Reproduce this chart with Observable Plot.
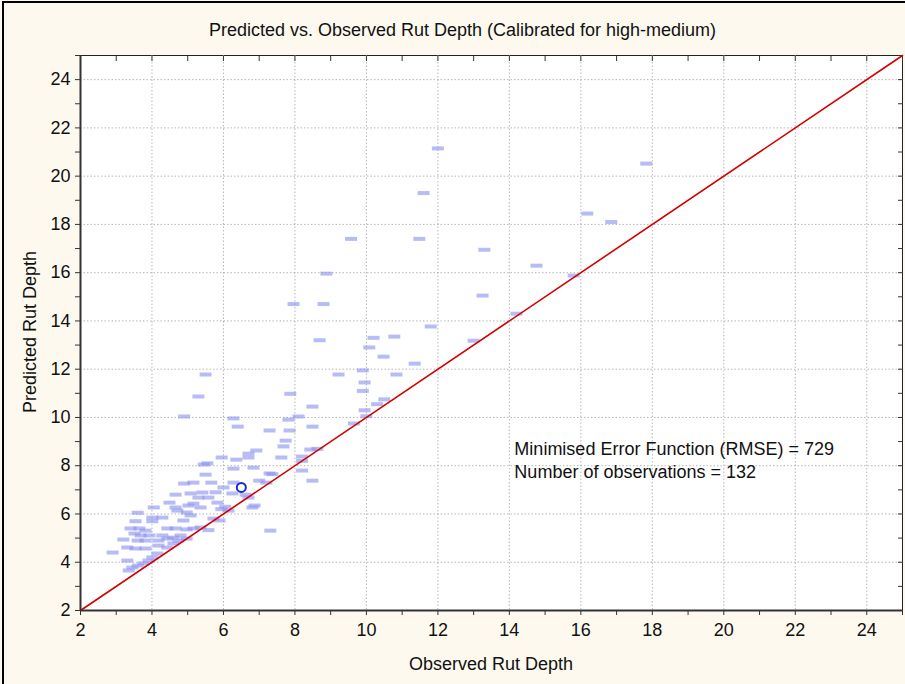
<!DOCTYPE html>
<html>
<head>
<meta charset="utf-8">
<script src="https://cdn.jsdelivr.net/npm/d3@7"></script>
<script src="https://cdn.jsdelivr.net/npm/@observablehq/plot@0.6"></script>
<style>
  html, body { margin: 0; padding: 0; background: #fdf9ef; }
  body { width: 905px; height: 684px; overflow: hidden; font-family: "Liberation Sans", Arial, sans-serif; }
  #wrap { position: relative; width: 905px; height: 684px; box-sizing: border-box; }
  #border { position: absolute; left: 2px; top: 1px; width: 910px; height: 700px; border-top: 2px solid #000; border-left: 2px solid #000; }
  #chart { position: absolute; left: 0; top: 0; }
  .lbl { position: absolute; font-size: 18px; color: #111; white-space: nowrap; }
  #title { left: 0; width: 925px; top: 20px; text-align: center; }
  #xlab { left: 80px; width: 822px; top: 654px; text-align: center; }
  #ylab { left: 30px; top: 332px; transform: translate(-50%, -50%) rotate(-90deg); }
</style>
</head>
<body>
<div id="wrap">
  <div id="border"></div>
  <div id="chart"></div>
  <div class="lbl" id="title">Predicted vs. Observed Rut Depth (Calibrated for high-medium)</div>
  <div class="lbl" id="xlab">Observed Rut Depth</div>
  <div class="lbl" id="ylab">Predicted Rut Depth</div>
</div>
<script>
// Observed rut depth (x) and predicted rut depth (y) for each observation
const observed = [
  12.0, 17.83, 11.6, 16.18, 16.85, 9.57, 11.48, 13.3, 14.76, 8.88,
  15.8, 13.25, 7.96, 8.8, 14.2, 11.8, 10.78, 10.2, 8.69, 13.0,
  10.08, 10.48, 11.35, 9.22, 9.9, 10.84, 5.5, 9.95, 5.3, 9.9,
  7.87, 8.49, 10.5, 10.3, 4.9, 9.95, 10.0, 8.1, 6.28, 7.82,
  9.65, 6.4, 8.49, 7.29, 7.85, 7.74, 7.68, 8.63, 8.43, 6.92,
  6.7, 5.95, 6.36, 6.7, 7.62, 8.2, 8.2, 5.55, 5.45, 6.28,
  6.84, 8.2, 7.29, 5.5, 7.37, 8.49, 7.0, 7.2, 5.16, 5.66,
  4.9, 6.28, 6.0, 7.31,
  5.78, 6.25, 6.62, 4.66, 5.08, 5.41, 5.3, 5.58, 6.7, 4.49,
  5.83, 5.16, 4.05, 4.66, 5.02, 5.36, 6.87, 6.81, 6.05, 5.94,
  6.14, 4.71, 4.97, 3.6, 4.01, 4.29, 5.08, 4.88, 5.72, 5.89,
  3.54, 4.01, 3.4, 3.65, 3.82, 4.43, 4.66, 4.97, 5.58, 5.16,
  5.36, 3.51, 3.68, 3.93, 4.29, 4.6, 4.8, 3.6, 3.82, 3.2,
  4.18, 4.43, 4.74, 4.97, 3.31, 3.54, 3.82, 4.18, 4.43, 4.6,
  2.9, 3.31, 4.15, 4.01, 3.9, 3.76, 3.45, 3.6, 3.35
];
const predicted = [
  21.15, 20.52, 19.3, 18.45, 18.1, 17.4, 17.4, 16.95, 16.29, 15.96,
  15.88, 15.05, 14.7, 14.7, 14.3, 13.77, 13.35, 13.3, 13.2, 13.18,
  12.9, 12.52, 12.23, 11.78, 11.95, 11.78, 11.78, 11.45, 10.87, 11.1,
  10.98, 10.45, 10.75, 10.55, 10.04, 10.3, 10.05, 10.04, 9.96, 9.91,
  9.75, 9.62, 9.62, 9.46, 9.46, 9.04, 8.8, 8.7, 8.67, 8.63,
  8.5, 8.34, 8.25, 8.34, 8.34, 8.38, 8.2, 8.1, 8.05, 7.88,
  7.92, 7.8, 7.68, 7.63, 7.65, 7.38, 7.38, 7.3, 7.3, 7.3,
  7.26, 7.3, 7.1, 5.31,
  6.9, 6.85, 6.8, 6.8, 6.85, 6.89, 6.68, 6.68, 6.68, 6.47,
  6.47, 6.43, 6.27, 6.27, 6.35, 6.27, 6.35, 6.27, 6.3, 6.2,
  6.14, 6.14, 6.06, 6.05, 5.85, 5.85, 5.94, 5.73, 5.81, 5.73,
  5.7, 5.7, 5.4, 5.4, 5.31, 5.4, 5.4, 5.36, 5.33, 5.4,
  5.44, 5.19, 5.11, 5.11, 5.11, 5.02, 5.11, 4.9, 4.9, 4.94,
  4.9, 4.98, 4.9, 4.98, 4.61, 4.57, 4.57, 4.69, 4.61, 4.78,
  4.4, 4.07, 4.36, 4.2, 4.07, 3.95, 3.78, 3.86, 3.66
];
// The highlighted point (open circle)
const highlightObserved = [6.5];
const highlightPredicted = [7.1];
// Line of equality
const equality = [2, 25];
// Tick values
const majorTicks = [2, 4, 6, 8, 10, 12, 14, 16, 18, 20, 22, 24];
const allTicks = d3.range(2, 26);
const notes = ["Minimised Error Function (RMSE) = 729", "Number of observations = 132"];

const points = observed.map((x, i) => ({x, y: predicted[i]}));
const circle = highlightObserved.map((x, i) => ({x, y: highlightPredicted[i]}));

const dash = { draw(ctx) { ctx.rect(-6, -2, 12, 4); } };
const tickFmt = d => (d % 2 === 0 && d <= 24) ? String(d) : "";

const plot = Plot.plot({
  width: 905,
  height: 684,
  marginLeft: 80,
  marginRight: 3,
  marginTop: 55,
  marginBottom: 74,
  style: { background: "transparent", fontFamily: "'Liberation Sans', Arial, sans-serif", fontSize: "18px", color: "#111" },
  x: { domain: [2, 25], label: null },
  y: { domain: [2, 25], label: null },
  marks: [
    Plot.frame({ fill: "white", stroke: "#222", strokeWidth: 1 }),
    Plot.gridX(majorTicks, { stroke: "#999", strokeOpacity: 0.7, strokeDasharray: "1.5,2" }),
    Plot.gridY(majorTicks, { stroke: "#999", strokeOpacity: 0.7, strokeDasharray: "1.5,2" }),
    Plot.axisX({ ticks: allTicks, tickFormat: tickFmt, tickSize: 5, tickPadding: 8, label: null, stroke: "#333", fontSize: 18 }),
    Plot.axisY({ ticks: allTicks, tickFormat: tickFmt, tickSize: 5, tickPadding: 5, label: null, stroke: "#333", fontSize: 18 }),
    Plot.axisX({ anchor: "top", ticks: allTicks, tickFormat: () => "", tickSize: -5, label: null, stroke: "#333" }),
    Plot.axisY({ anchor: "right", ticks: allTicks, tickFormat: () => "", tickSize: -5, label: null, stroke: "#333" }),
    Plot.dot(points, { x: "x", y: "y", symbol: dash, r: 3, fill: "#8990ee", fillOpacity: 0.6, stroke: "none" }),
    Plot.line(equality, { x: d => d, y: d => d, stroke: "#d40000", strokeWidth: 1.6 }),
    Plot.dot(circle, { x: "x", y: "y", r: 4.5, stroke: "#1a2ad0", strokeWidth: 2, fill: "none" }),
    Plot.ruleX([2], { stroke: "#333", strokeWidth: 2 }),
    Plot.ruleY([2], { stroke: "#333", strokeWidth: 2 }),
    Plot.text([notes[0]], { x: 14.14, y: 8.7, text: d => d, textAnchor: "start", fontSize: 18, fill: "#111" }),
    Plot.text([notes[1]], { x: 14.14, y: 7.72, text: d => d, textAnchor: "start", fontSize: 18, fill: "#111" })
  ]
});
document.getElementById("chart").appendChild(plot);
</script>
</body>
</html>
